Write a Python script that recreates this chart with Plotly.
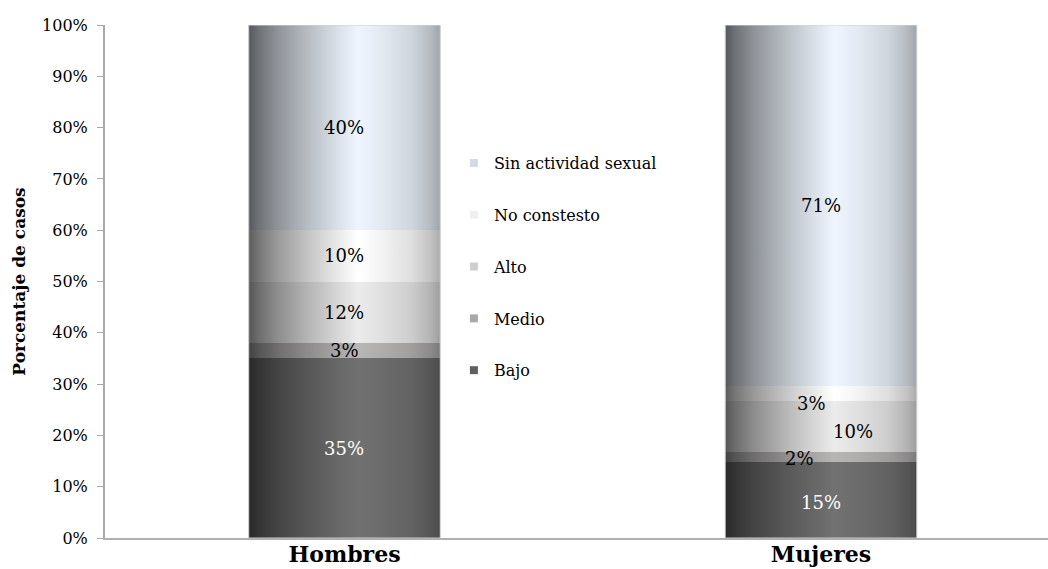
import plotly.graph_objects as go

# Categories and series (percent of cases)
categories = ["Hombres", "Mujeres"]
series_names = ["Bajo", "Medio", "Alto", "No constesto", "Sin actividad sexual"]
bajo = [35, 15]
medio = [3, 2]
alto = [12, 10]
no_contesto = [10, 3]
sin_actividad = [40, 71]
y_ticks = [0, 10, 20, 30, 40, 50, 60, 70, 80, 90, 100]

series_values = [bajo, medio, alto, no_contesto, sin_actividad]

# Styling
serif = "DejaVu Serif"
bar_colors = ["#717171", "#b8b5b5", "#ecebeb", "#ffffff", "#eef5fe"]
legend_colors = ["#5f5f5f", "#a9a9a9", "#cfcfcf", "#efefef", "#d3dae6"]
label_colors = ["#ffffff", "#000000", "#000000", "#000000", "#000000"]
bar_width = 0.402
# pixel nudges for labels on the thin segments (category index, series index)
label_shift = {(1, 1): (-21, -2), (1, 2): (32, -5), (1, 3): (-9, -10), (1, 0): (0, -3)}
# cylinder shading: black overlay alpha across the bar width
shade = [
    [0.0, "rgba(0,0,0,0.64)"],
    [0.05, "rgba(0,0,0,0.54)"],
    [0.15, "rgba(0,0,0,0.40)"],
    [0.30, "rgba(0,0,0,0.24)"],
    [0.45, "rgba(0,0,0,0.10)"],
    [0.57, "rgba(0,0,0,0.0)"],
    [0.70, "rgba(0,0,0,0.05)"],
    [0.85, "rgba(0,0,0,0.13)"],
    [0.95, "rgba(0,0,0,0.24)"],
    [1.0, "rgba(0,0,0,0.33)"],
]

xpos = list(range(len(categories)))
fig = go.Figure()

n_series = len(series_names)
for k, (name, vals) in enumerate(zip(series_names, series_values)):
    fig.add_trace(go.Bar(
        x=xpos, y=vals, name=name, width=bar_width,
        marker=dict(color=bar_colors[k], line=dict(width=0)),
        legendgroup=name, showlegend=False,
        hovertemplate="%{y}%<extra>" + name + "</extra>",
    ))
    # small square legend key in the series' mid tone
    fig.add_trace(go.Scatter(
        x=[None], y=[None], name=name, mode="markers",
        marker=dict(symbol="square", size=8, color=legend_colors[k]),
        legendgroup=name, legendrank=n_series - k, hoverinfo="skip",
    ))

# shading overlay and value labels per category
annotations = []
for i in xpos:
    col = [vals[i] for vals in series_values]
    total = sum(col)
    top = 0.0
    for k, v in enumerate(col):
        share = v / total * 100
        mid = top + share / 2
        top += share
        dx, dy = label_shift.get((i, k), (0, 0))
        annotations.append(dict(
            x=i, y=mid, xref="x", yref="y", text=f"{v}%", showarrow=False,
            xshift=dx, yshift=dy,
            font=dict(family=serif, size=18, color=label_colors[k]),
        ))
    x0, x1 = i - bar_width / 2, i + bar_width / 2
    fig.add_trace(go.Scatter(
        x=[x0, x1, x1, x0, x0], y=[0, 0, top, top, 0],
        mode="lines", fill="toself",
        fillgradient=dict(type="horizontal", colorscale=shade),
        line=dict(color="#cfcfcf", width=1),
        showlegend=False, hoverinfo="skip",
    ))

fig.update_layout(
    width=1048, height=569,
    margin=dict(l=105, r=0, t=25, b=31),
    paper_bgcolor="white", plot_bgcolor="white",
    barmode="stack", barnorm="percent",
    annotations=annotations,
    showlegend=True,
    legend=dict(
        x=0.37, y=0.764, xanchor="left", yanchor="top",
        traceorder="grouped", tracegroupgap=28,
        font=dict(family=serif, size=16, color="#000000"),
        bgcolor="rgba(0,0,0,0)",
    ),
    xaxis=dict(
        range=[-0.5026, 1.4764], tickvals=xpos, ticktext=categories,
        showgrid=False, zeroline=False,
        showline=True, linecolor="#b0b0b0", linewidth=2,
        ticks="", ticklabelstandoff=-4,
        tickfont=dict(family=serif, size=22, color="#000000", weight="bold"),
    ),
    yaxis=dict(
        range=[0, 100], tickvals=y_ticks, ticktext=[f"{t}%" for t in y_ticks],
        showgrid=False, zeroline=False,
        showline=True, linecolor="#a8a8a8", linewidth=2,
        ticks="outside", ticklen=6, tickcolor="#a8a8a8", tickwidth=1,
        ticklabelstandoff=6,
        tickfont=dict(family=serif, size=16, color="#000000"),
        title=dict(text="Porcentaje de casos", standoff=12,
                   font=dict(family=serif, size=17, color="#000000", weight="bold")),
    ),
)

fig.write_html("out.html")
